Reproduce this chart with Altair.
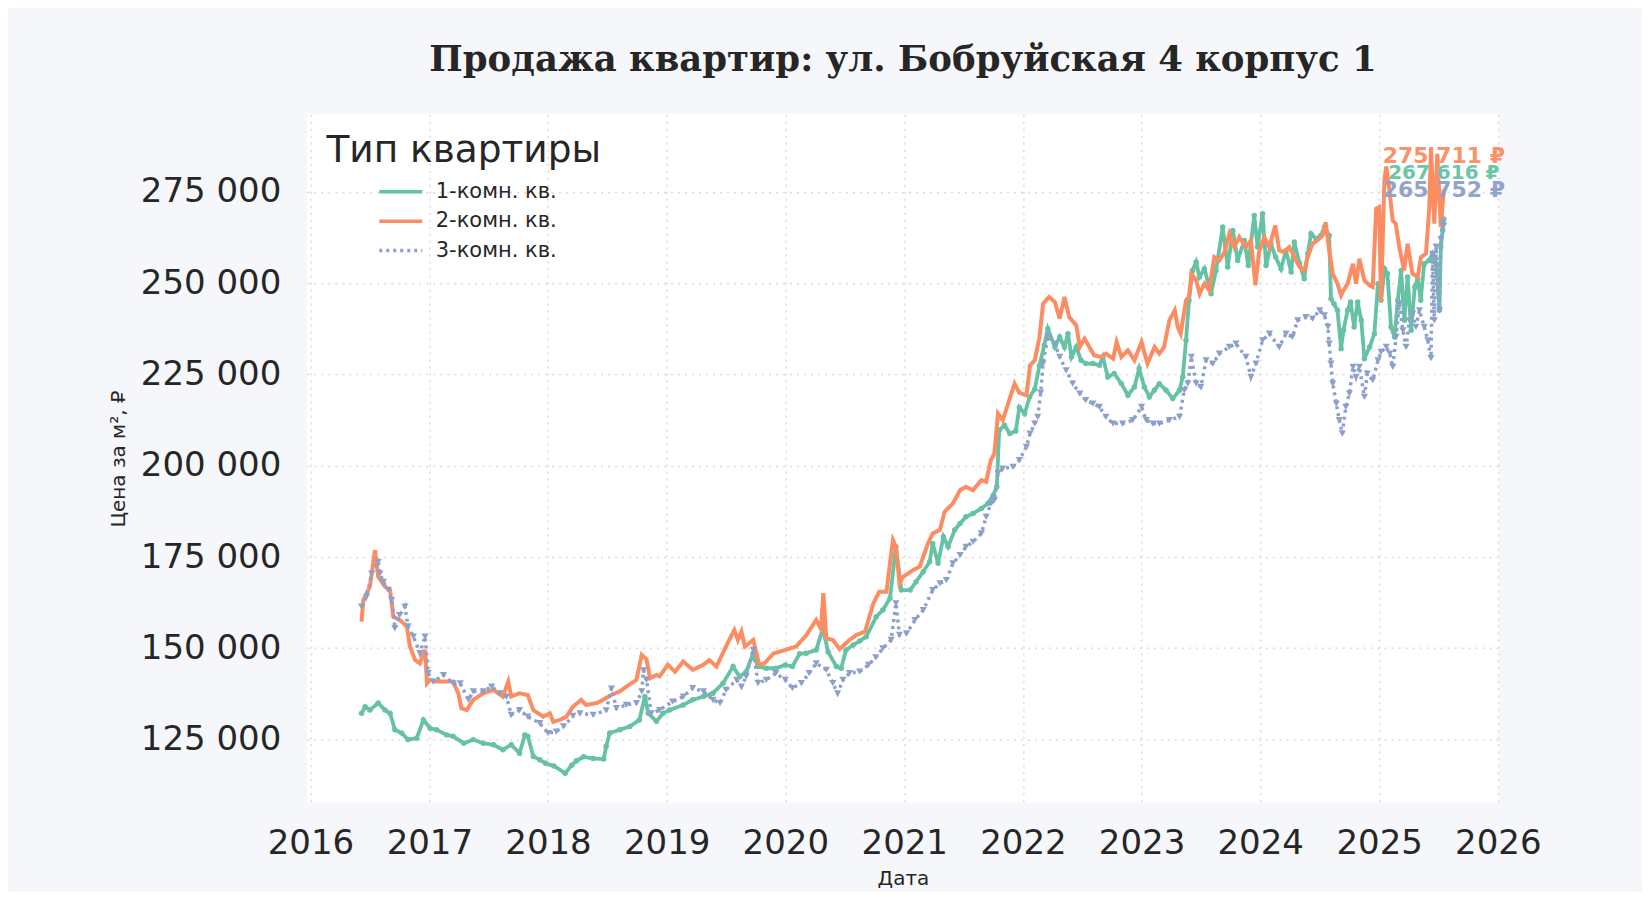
import altair as alt
import pandas as pd
import numpy as np

types = ["1-комн. кв.", "2-комн. кв.", "3-комн. кв."]
colors = ["#66c2a5", "#fc8d62", "#8da0cb"]

# 1-room (decimal year, price per m2)
t1 = [2016.43, 2016.46, 2016.50, 2016.57, 2016.627, 2016.67, 2016.71, 2016.767, 2016.82, 2016.894,
      2016.95, 2017.006, 2017.06, 2017.146, 2017.2, 2017.29, 2017.37, 2017.455, 2017.54, 2017.62,
      2017.69, 2017.76, 2017.805, 2017.83, 2017.876, 2017.93, 2017.98, 2018.05, 2018.145, 2018.2,
      2018.24, 2018.3, 2018.38, 2018.47, 2018.49, 2018.52, 2018.605, 2018.69, 2018.77, 2018.816,
      2018.845, 2018.914, 2018.97, 2019.025, 2019.14, 2019.22, 2019.31, 2019.39, 2019.475, 2019.56,
      2019.615, 2019.67, 2019.73, 2019.77, 2019.84, 2019.92, 2020.0, 2020.06, 2020.12, 2020.175,
      2020.26, 2020.316, 2020.36, 2020.43, 2020.47, 2020.51, 2020.57, 2020.625, 2020.68, 2020.765,
      2020.82, 2020.88, 2020.93, 2020.976, 2021.05, 2021.1, 2021.16, 2021.214, 2021.24, 2021.285,
      2021.33, 2021.37, 2021.425, 2021.47, 2021.52, 2021.58, 2021.65, 2021.705, 2021.75, 2021.78,
      2021.8, 2021.845, 2021.89, 2021.94, 2021.97, 2022.015, 2022.057, 2022.1, 2022.14, 2022.18,
      2022.21, 2022.27, 2022.31, 2022.35, 2022.38, 2022.41, 2022.45, 2022.49, 2022.53, 2022.59,
      2022.645, 2022.674, 2022.716, 2022.77, 2022.83, 2022.885, 2022.94, 2022.98, 2023.024, 2023.066,
      2023.108, 2023.15, 2023.207, 2023.263, 2023.32, 2023.347, 2023.375, 2023.4, 2023.43, 2023.46,
      2023.488, 2023.53, 2023.586, 2023.628, 2023.684, 2023.726, 2023.77, 2023.81, 2023.866, 2023.9,
      2023.95, 2023.978, 2024.02, 2024.05, 2024.09, 2024.13, 2024.175, 2024.217, 2024.26, 2024.287,
      2024.33, 2024.37, 2024.4, 2024.427, 2024.47, 2024.51, 2024.54, 2024.58, 2024.595, 2024.62,
      2024.65, 2024.68, 2024.7, 2024.735, 2024.76, 2024.79, 2024.82, 2024.85, 2024.876, 2024.92,
      2024.96, 2024.99, 2025.016, 2025.045, 2025.07, 2025.1, 2025.13, 2025.157, 2025.185, 2025.213,
      2025.24, 2025.27, 2025.3, 2025.325, 2025.35, 2025.38, 2025.42, 2025.45, 2025.48, 2025.508,
      2025.52, 2025.535, 2025.545]
v1 = [132200, 134000, 133100, 135000, 133100, 132200, 127700, 126800, 125000, 125400,
      130400, 128100, 127700, 126300, 125900, 124000, 125000, 124000, 123600, 122200,
      123600, 121300, 126300, 125900, 120400, 119500, 118500, 117800, 115800, 118000,
      119200, 120300, 119800, 119700, 123100, 126800, 127700, 128600, 130400, 136800,
      132200, 130000, 132200, 133100, 134500, 135900, 136800, 137700, 140450, 145000,
      142250, 143600, 148650, 145000, 144550, 144550, 145450, 145000, 148500, 148650,
      149550, 155500, 149000, 145000, 144550, 149550, 150900, 152000, 153200, 158670,
      160500, 163700, 177800, 165970, 165970, 168250, 171000, 173720, 178740, 173300,
      180560, 177820, 182400, 184200, 186030, 186940, 188300, 189680, 191960, 194240,
      209740, 211100, 208830, 209500, 216000, 214300, 218860, 221000, 227500, 233000,
      237560, 232540, 235280, 232540, 236190, 229810, 232540, 228900, 227990, 227990,
      227530, 229810, 224340, 225250, 222510, 219320, 221600, 226620, 221600, 218860,
      220690, 222510, 220690, 218410, 220690, 224340, 234370, 245320, 253520, 255800,
      251700, 253980, 247140, 253520, 265380, 254430, 264470, 256260, 261730, 254890,
      268570, 259900, 269030, 254890, 260820, 257170, 253980, 259000, 253070, 261270,
      255500, 251240, 258080, 263550, 262180, 263100, 265380, 263100, 245770, 244400,
      242580, 232090, 237100, 242580, 244860, 238020, 244860, 239840, 229350, 232540,
      236190, 249870, 245310, 253980, 252610, 238020, 235280, 245310, 253520, 239840,
      251700, 237100, 248960, 251240, 245310, 255340, 256260, 258080, 255340, 242580,
      259900, 264460, 267616]

# 2-room
t2 = [2016.43, 2016.445, 2016.50, 2016.543, 2016.57, 2016.627, 2016.67, 2016.697, 2016.75, 2016.81,
      2016.837, 2016.88, 2016.92, 2016.964, 2016.98, 2017.006, 2017.06, 2017.2, 2017.244, 2017.27,
      2017.315, 2017.37, 2017.455, 2017.54, 2017.62, 2017.665, 2017.69, 2017.76, 2017.83, 2017.876,
      2017.96, 2018.016, 2018.044, 2018.1, 2018.156, 2018.21, 2018.28, 2018.32, 2018.41, 2018.465,
      2018.55, 2018.605, 2018.66, 2018.745, 2018.79, 2018.83, 2018.86, 2018.914, 2018.94, 2019.01,
      2019.07, 2019.14, 2019.22, 2019.31, 2019.36, 2019.42, 2019.5, 2019.57, 2019.6, 2019.63,
      2019.66, 2019.73, 2019.78, 2019.825, 2019.9, 2020.0, 2020.09, 2020.175, 2020.26, 2020.3,
      2020.32, 2020.345, 2020.4, 2020.457, 2020.54, 2020.6, 2020.67, 2020.74, 2020.79, 2020.85,
      2020.905, 2020.93, 2020.96, 2020.99, 2021.075, 2021.13, 2021.2, 2021.24, 2021.3, 2021.34,
      2021.41, 2021.47, 2021.52, 2021.58, 2021.65, 2021.69, 2021.73, 2021.76, 2021.79, 2021.83,
      2021.87, 2021.93, 2021.97, 2022.03, 2022.06, 2022.1, 2022.14, 2022.17, 2022.22, 2022.27,
      2022.31, 2022.35, 2022.39, 2022.45, 2022.48, 2022.52, 2022.56, 2022.6, 2022.66, 2022.7,
      2022.76, 2022.79, 2022.83, 2022.885, 2022.94, 2023.0, 2023.05, 2023.11, 2023.15, 2023.19,
      2023.235, 2023.28, 2023.305, 2023.33, 2023.375, 2023.4, 2023.42, 2023.46, 2023.49, 2023.53,
      2023.57, 2023.613, 2023.656, 2023.7, 2023.74, 2023.782, 2023.824, 2023.88, 2023.922, 2023.96,
      2023.99, 2024.035, 2024.077, 2024.127, 2024.16, 2024.2, 2024.245, 2024.287, 2024.33, 2024.37,
      2024.4, 2024.44, 2024.48, 2024.525, 2024.55, 2024.58, 2024.61, 2024.65, 2024.68, 2024.7,
      2024.735, 2024.78, 2024.806, 2024.834, 2024.876, 2024.92, 2024.946, 2024.975, 2025.0, 2025.016,
      2025.044, 2025.06, 2025.087, 2025.114, 2025.14, 2025.17, 2025.21, 2025.24, 2025.28, 2025.325,
      2025.353, 2025.395, 2025.423, 2025.437, 2025.465, 2025.49, 2025.52, 2025.545]
v2 = [157300, 163200, 166900, 176900, 169600, 166900, 166000, 158700, 157800, 156000,
      150500, 146800, 145900, 149600, 140400, 141400, 140900, 140900, 137700, 133600,
      133100, 135900, 137700, 138600, 136800, 140900, 136800, 137700, 137200, 133100,
      131300, 132200, 129900, 130400, 131300, 134000, 135900, 134500, 135000, 135900,
      137500, 138200, 139500, 141350, 148200, 147000, 141800, 142700, 142300, 145500,
      143600, 146400, 144100, 145500, 146800, 145000, 150500, 155000, 152300, 154600,
      150500, 152300, 145500, 145900, 148600, 149550, 150500, 153500, 157800, 155300,
      165100, 152700, 152300, 149800, 152300, 153700, 154570, 162300, 165500, 165500,
      179650, 177800, 167800, 169600, 171440, 172350, 178700, 181470, 182400, 187400,
      189680, 193300, 194240, 193300, 196100, 195600, 201540, 203360, 214300, 212500,
      216500, 222500, 220000, 219300, 227500, 228900, 235280, 244400, 246230, 244860,
      240300, 246230, 240750, 238470, 232540, 234820, 232540, 230260, 229810, 230720,
      229350, 233910, 229810, 231630, 228900, 233910, 227990, 232540, 230720, 232540,
      239840, 242580, 238020, 236190, 245320, 246230, 252610, 250790, 247140, 249870,
      248050, 257170, 256260, 258540, 263550, 259900, 262640, 259900, 261730, 249420,
      258540, 262640, 259900, 265830, 259000, 258540, 259900, 257170, 254500, 253520,
      257170, 260820, 261730, 263100, 266740, 258990, 252610, 249870, 246680, 248050,
      249870, 255340, 249870, 256710, 250780, 249420, 248960, 270400, 270850, 244860,
      278140, 282000, 275410, 267200, 266290, 259900, 253520, 260820, 252610, 251700,
      257170, 258080, 270850, 287260, 266290, 285440, 265380, 275711]

# 3-room
t3 = [2016.43, 2016.473, 2016.515, 2016.57, 2016.585, 2016.613, 2016.655, 2016.683, 2016.71, 2016.75,
      2016.795, 2016.82, 2016.866, 2016.92, 2016.964, 2016.99, 2017.034, 2017.118, 2017.2, 2017.26,
      2017.33, 2017.37, 2017.455, 2017.525, 2017.595, 2017.65, 2017.69, 2017.76, 2017.83, 2017.93,
      2018.0, 2018.07, 2018.13, 2018.21, 2018.27, 2018.38, 2018.49, 2018.535, 2018.577, 2018.66,
      2018.745, 2018.79, 2018.805, 2018.83, 2018.87, 2018.94, 2019.05, 2019.14, 2019.22, 2019.31,
      2019.39, 2019.45, 2019.5, 2019.59, 2019.63, 2019.67, 2019.73, 2019.77, 2019.84, 2019.92,
      2020.0, 2020.06, 2020.135, 2020.2, 2020.26, 2020.345, 2020.4, 2020.44, 2020.485, 2020.54,
      2020.625, 2020.7, 2020.76, 2020.82, 2020.89, 2020.93, 2020.96, 2021.02, 2021.09, 2021.16,
      2021.24, 2021.3, 2021.355, 2021.41, 2021.47, 2021.52, 2021.58, 2021.65, 2021.69, 2021.73,
      2021.76, 2021.79, 2021.83, 2021.916, 2021.97, 2022.03, 2022.06, 2022.1, 2022.125, 2022.15,
      2022.17, 2022.21, 2022.27, 2022.31, 2022.365, 2022.42, 2022.48, 2022.53, 2022.59, 2022.645,
      2022.7, 2022.76, 2022.84, 2022.926, 2023.0, 2023.04, 2023.095, 2023.15, 2023.235, 2023.32,
      2023.36, 2023.39, 2023.42, 2023.46, 2023.5, 2023.544, 2023.6, 2023.656, 2023.74, 2023.796,
      2023.88, 2023.922, 2023.964, 2024.02, 2024.077, 2024.16, 2024.217, 2024.27, 2024.315, 2024.385,
      2024.44, 2024.5, 2024.54, 2024.57, 2024.58, 2024.595, 2024.61, 2024.64, 2024.665, 2024.69,
      2024.72, 2024.75, 2024.78, 2024.806, 2024.834, 2024.876, 2024.9, 2024.946, 2024.99, 2025.016,
      2025.06, 2025.09, 2025.115, 2025.143, 2025.17, 2025.2, 2025.227, 2025.255, 2025.283, 2025.31,
      2025.34, 2025.38, 2025.41, 2025.437, 2025.45, 2025.465, 2025.48, 2025.508, 2025.52, 2025.535,
      2025.545]
v3 = [161400, 164150, 170500, 173700, 170500, 168200, 166000, 163200, 155500, 159100,
      161400, 156000, 153200, 148700, 153200, 143200, 140900, 142700, 140400, 140400,
      135900, 138200, 138200, 139500, 137700, 136800, 131800, 133100, 131300, 129500,
      126800, 127200, 128600, 131500, 132200, 131800, 133000, 139000, 133600, 134500,
      135000, 138200, 144000, 141350, 132200, 133100, 135400, 136800, 139100, 138200,
      135900, 135000, 138600, 141350, 139500, 142250, 149550, 140450, 141350, 143200,
      141350, 139100, 140450, 143200, 145900, 144100, 140450, 137700, 141350, 143200,
      143600, 145500, 147500, 150000, 152300, 162320, 153660, 154110, 157760, 160500,
      165970, 167800, 168700, 173260, 175540, 177820, 179190, 181470, 186030, 189680,
      190590, 197900, 199250, 199700, 201540, 205200, 208830, 211570, 213400, 220000,
      228000, 235500, 233460, 229810, 226160, 222510, 219780, 217960, 217040, 216130,
      213400, 211570, 211570, 212480, 216130, 212480, 211570, 211570, 212480, 213400,
      220690, 222510, 229810, 222510, 221600, 228900, 227990, 230720, 232540, 233460,
      229810, 224340, 227990, 234370, 236190, 232540, 236190, 235280, 239840, 240750,
      240300, 242580, 241200, 238020, 233460, 227990, 222510, 217040, 212480, 208830,
      216130, 219780, 227070, 224340, 227070, 218860, 225250, 223430, 228900, 231180,
      232540, 230720, 227070, 235280, 244400, 237100, 232540, 239840, 241660, 238020,
      242580, 238020, 234370, 229500, 258080, 239840, 260000, 242580, 262000, 266500,
      265752]

y_ticks = [125000, 150000, 175000, 200000, 225000, 250000, 275000]
x_years = list(range(2016, 2027))


def to_date(y):
    yr = int(np.floor(y))
    a = pd.Timestamp(year=yr, month=1, day=1)
    b = pd.Timestamp(year=yr + 1, month=1, day=1)
    return (a + (b - a) * (y - yr)).strftime("%Y-%m-%dT%H:%M:%S")


frames = []
for i, (tt, vv) in enumerate([(t1, v1), (t2, v2), (t3, v3)]):
    frames.append(pd.DataFrame({"date": [to_date(x) for x in tt], "price": vv,
                                "type": types[i], "k": i}))
df = pd.concat(frames, ignore_index=True)

last = pd.DataFrame({
    "date": [to_date(t1[-1]), to_date(t2[-1]), to_date(t3[-1])],
    "price": [v1[-1], v2[-1], v3[-1]],
    "type": types,
    "label": [f"{v:,}".replace(",", " ") + " ₽" for v in (v1[-1], v2[-1], v3[-1])],
})

x_enc = alt.X("date:T", title="Дата",
              scale=alt.Scale(domain=["2015-12-21", "2026-01-05"]),
              axis=alt.Axis(values=[alt.DateTime(year=y, month=1, date=1) for y in x_years],
                            format="%Y", labelFontSize=34, labelPadding=24, titlePadding=8,
                            titleFontSize=20, titleFontWeight="normal"))
y_enc = alt.Y("price:Q", title="Цена за м², ₽",
              scale=alt.Scale(domain=[107700, 296300], nice=False, zero=False),
              axis=alt.Axis(values=y_ticks, labelFontSize=34, labelPadding=26, titlePadding=12,
                            titleFontSize=20, titleFontWeight="normal",
                            labelExpr="replace(format(datum.value, ','), ',', ' ')"))

leg = alt.Legend(title="Тип квартиры", orient="none", legendX=20, legendY=18,
                 titleFontSize=37.5, titleFontWeight="normal", titleAnchor="middle",
                 titleColor="#262626", titlePadding=10, titleLimit=500,
                 labelFontSize=21, labelColor="#262626", labelOffset=23, labelLimit=300,
                 symbolType="M-2.15,0H2.15", symbolSize=400, symbolStrokeWidth=3.5,
                 symbolOffset=18, rowPadding=7.5, padding=0)

color_enc = alt.Color("type:N", scale=alt.Scale(domain=types, range=colors), legend=leg)
dash_enc = alt.StrokeDash("type:N", scale=alt.Scale(domain=types, range=[[1, 0], [1, 0], [3, 4]]),
                          legend=leg)

base = alt.Chart(df)


def line_layer(i, w):
    return base.transform_filter(alt.datum.k == i).mark_line(strokeWidth=w).encode(
        x=x_enc, y=y_enc, color=color_enc, strokeDash=dash_enc)


green_pts = base.transform_filter(alt.datum.k == 0).mark_point(
    filled=True, shape="circle", size=30, opacity=1, color=colors[0]).encode(x="date:T", y="price:Q")
blue_pts = base.transform_filter(alt.datum.k == 2).mark_point(
    filled=True, shape="triangle-down", size=52, opacity=1, color=colors[2]).encode(x="date:T", y="price:Q")

lab = alt.Chart(last)


def label_layer(i, dy, size):
    return lab.transform_filter(alt.datum.type == types[i]).mark_text(
        align="center", baseline="middle", fontWeight="bold", font="DejaVu Sans",
        fontSize=size, dy=dy, color=colors[i], opacity=0.95).encode(
        x="date:T", y="price:Q", text="label:N")


chart = alt.layer(
    line_layer(0, 3.8), green_pts, line_layer(1, 4), line_layer(2, 3.5), blue_pts,
    label_layer(1, -33, 22), label_layer(0, -46, 20), label_layer(2, -36, 22),
).properties(
    width=1193, height=689,
    title=alt.Title("Продажа квартир: ул. Бобруйская 4 корпус 1", font="DejaVu Serif",
                    fontSize=35.5, fontWeight="bold", color="#262626", anchor="middle",
                    baseline="alphabetic", offset=8),
    autosize=alt.AutoSizeParams(type="none"),
    padding={"left": 299, "top": 106, "right": 143, "bottom": 89},
).configure(
    background="#f5f7fa",
    font="DejaVu Sans",
).configure_view(
    fill="white", stroke=None,
).configure_axis(
    grid=True, gridColor="#dcdcdc", gridDash=[2, 5], gridWidth=1.6,
    domain=False, ticks=False, labelColor="#262626", titleColor="#262626",
    labelFont="DejaVu Sans", titleFont="DejaVu Sans",
)

chart.save("out.html", embed_options={"renderer": "svg", "actions": False})
